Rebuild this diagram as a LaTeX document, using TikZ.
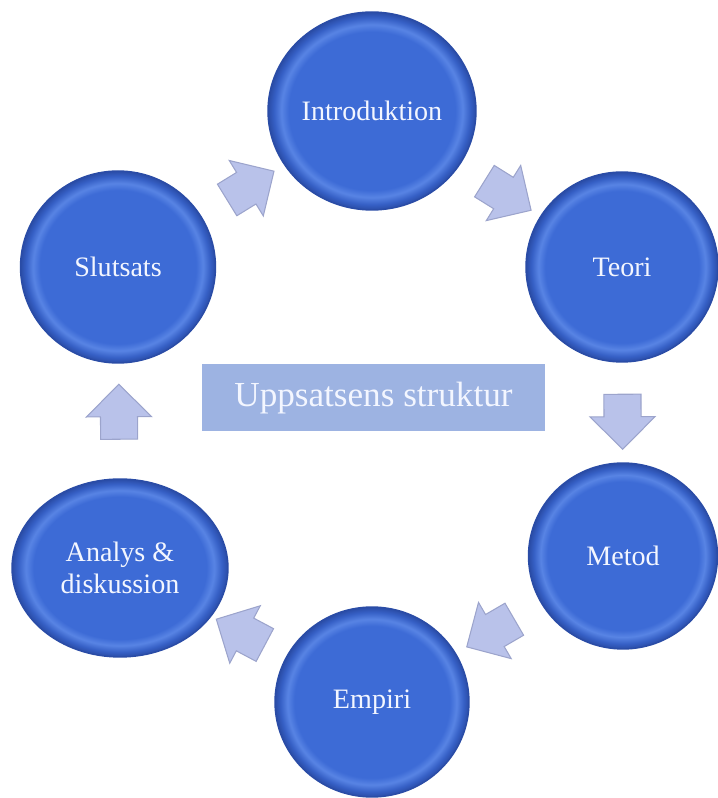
\documentclass[tikz,border=0pt]{standalone}
\usepackage{fontspec}
\setmainfont{Liberation Serif}
\usepackage{tikz}
\usetikzlibrary{shapes,shapes.arrows}
\definecolor{btnmid}{HTML}{3D6BD6}
\definecolor{btnlight}{HTML}{5884E4}
\definecolor{btnrim}{HTML}{3660C6}
\definecolor{btndark}{HTML}{2A4CA6}
\definecolor{arrowfill}{HTML}{B9C2EA}
\definecolor{arrowedge}{HTML}{9CA4CC}
\definecolor{titlefill}{HTML}{9DB3E2}
\definecolor{textwhite}{HTML}{F3F6FF}
\pgfdeclareradialshading{bluebutton}{\pgfpoint{0bp}{0bp}}{color(0bp)=(btnmid); color(20bp)=(btnmid); color(21.8bp)=(btnlight); color(23.6bp)=(btnrim); color(25bp)=(btndark); color(50bp)=(btndark)}

\begin{document}
\begin{tikzpicture}[
    button/.style={ellipse, shading=bluebutton, draw=btndark, line width=0.8pt,
        text=textwhite, font=\fontsize{16}{18}\selectfont, align=center, inner sep=0pt},
    blockarrow/.style={single arrow, fill=arrowfill, draw=arrowedge, line width=0.6pt,
        minimum height=1.1cm, single arrow head extend=0.28cm,
        inner xsep=0pt, inner ysep=0.36cm, sloped, allow upside down}]
    \useasboundingbox (0,0) rectangle (14.36,15.96);

    \node[button, minimum width=4.16cm, minimum height=3.96cm] (intro) at (7.44,13.74) {Introduktion};
    \node[button, minimum width=3.84cm, minimum height=3.80cm] (teori) at (12.44,10.62) {Teori};
    \node[button, minimum width=3.78cm, minimum height=3.72cm] (metod) at (12.46,4.84) {Metod};
    \node[button, minimum width=3.88cm, minimum height=3.80cm] (empiri) at (7.44,1.92) {Empiri};
    \node[button, minimum width=4.32cm, minimum height=3.56cm] (analys) at (2.40,4.60) {Analys \&\\diskussion};
    \node[button, minimum width=3.90cm, minimum height=3.84cm] (slut) at (2.36,10.62) {Slutsats};

    \node[fill=titlefill, text=textwhite, minimum width=6.86cm, minimum height=1.34cm,
        font=\fontsize{20}{24}\selectfont] (title) at (7.47,8.00) {Uppsatsens struktur};

    \path (slut) -- node[blockarrow] (a1) {} (intro);
    \path (intro) -- node[blockarrow] (a2) {} (teori);
    \path (teori) -- node[blockarrow] (a3) {} (metod);
    \path (metod) -- node[blockarrow] (a4) {} (empiri);
    \path (empiri) -- node[blockarrow] (a5) {} (analys);
    \path (analys) -- node[blockarrow] (a6) {} (slut);
\end{tikzpicture}
\end{document}
